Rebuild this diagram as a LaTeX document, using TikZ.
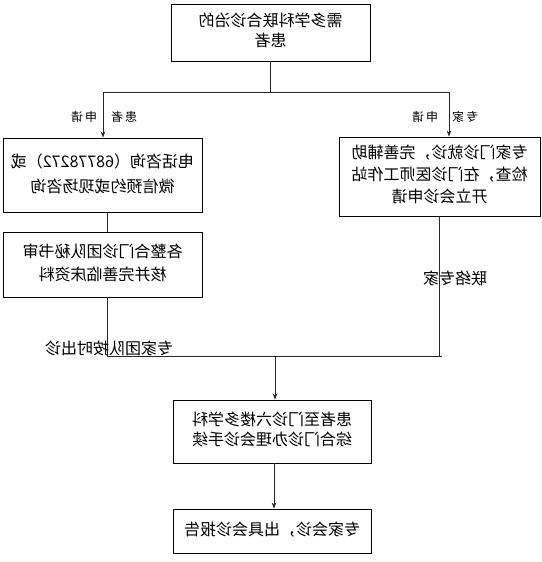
\documentclass[tikz,border=0pt]{standalone}
\usepackage{graphicx}
\usepackage{fontspec}
\setmainfont{Noto Sans CJK SC}
\usetikzlibrary{arrows.meta}
\newcommand\mtext[3]{\raisebox{#1}{\reflectbox{\fontsize{16}{#2}\selectfont\begin{tabular}{@{}c@{}}#3\end{tabular}}}}
\newcommand\rtext[2]{\reflectbox{\fontsize{#1}{#1}\selectfont #2}}
\begin{document}
\begin{tikzpicture}[x=1pt,y=-1pt,
  box/.style={draw=black,line width=0.8pt,inner sep=0pt,rectangle},
  conn/.style={draw=black!85,line width=0.8pt},
  arr/.style={conn,-{Stealth[length=6pt,width=4.5pt]}},
  lbl/.style={inner sep=0pt}]
\useasboundingbox (0,0) rectangle (541,562);
\fill[white] (0,0) rectangle (541,562);
% boxes
\node[box,minimum width=199pt,minimum height=57pt] (top) at (270.5,32.5)
  {\mtext{0pt}{20pt}{需多学科联合诊治的\\患者}};
\node[box,minimum width=199pt,minimum height=74pt] (b1) at (102.5,175)
  {\mtext{7.5pt}{25pt}{电话咨询（68778272）或\\微信预约或现场咨询}};
\node[box,minimum width=199pt,minimum height=65pt] (b2) at (102.5,264.5)
  {\mtext{3pt}{23pt}{各整合门诊团队秘书审\\核并完善临床资料}};
\node[box,minimum width=201pt,minimum height=79pt] (br) at (439.5,176.5)
  {\mtext{0pt}{22pt}{专家门诊就诊，完善辅助\\检查，在门诊医师工作站\\开立会诊申请}};
\node[box,minimum width=198pt,minimum height=63pt] (b4) at (272,431.5)
  {\mtext{1.5pt}{20pt}{患者至门诊六楼多学科\\综合门诊办理会诊手续}};
\node[box,minimum width=198pt,minimum height=44pt] (b5) at (272,531)
  {\mtext{5.5pt}{20pt}{专家会诊，出具会诊报告}};
% junctions
\coordinate (jl) at (103,92);
\coordinate (jr) at (449,92);
\coordinate (kl) at (107,356);
\coordinate (kr) at (442,356);
\coordinate (km) at (275,356);
% connectors
\draw[conn] (top.south) -- (top.south |- jl);
\draw[conn] (jl) -- (jr);
\draw[arr] (jl) -- (jl |- b1.north);
\draw[arr] (jr) -- (jr |- br.north);
\draw[conn] ([xshift=4.5pt]b1.south) -- ([xshift=4.5pt]b2.north);
\draw[conn] ([xshift=4.5pt]b2.south) -- (kl);
\draw[conn] (br.south) -- (br.south |- kr);
\draw[conn] (kl) -- (kr);
\draw[arr] (km) -- (km |- b4.north);
\draw[arr] ([xshift=2pt]b4.south) -- ([xshift=2pt]b5.north);
% labels
\node[lbl] (l1) at (104,117) {\rtext{12}{患\,者\hspace{14pt}申\,请}};
\node[lbl] (l2) at (445,117) {\rtext{12}{专\,家\hspace{14pt}申\,请}};
\node[lbl] (l3) at (455,278) {\rtext{16}{联络专家}};
\node[lbl] (l4) at (109,348) {\rtext{16}{专家团队按时出诊}};
\end{tikzpicture}
\end{document}
